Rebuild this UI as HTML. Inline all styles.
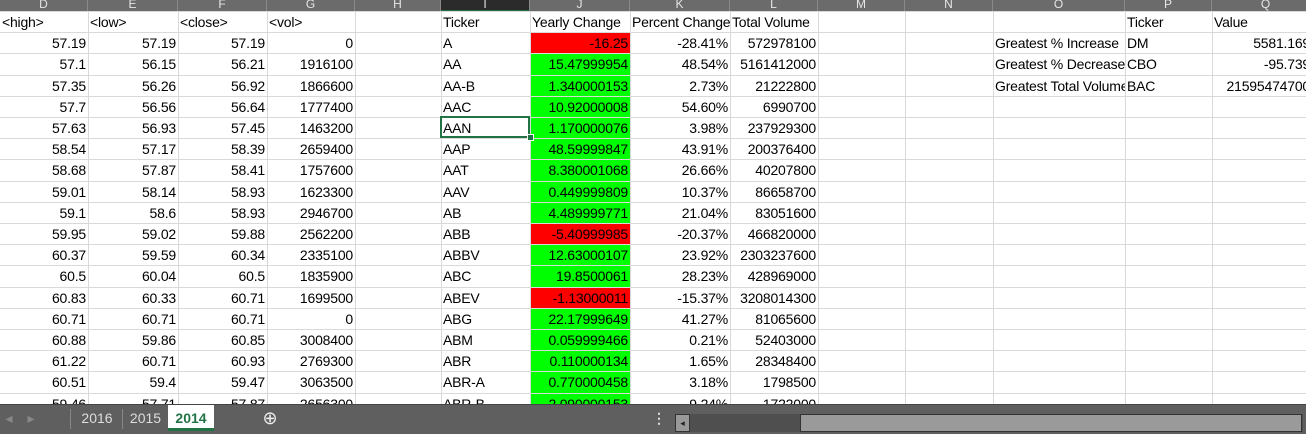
<!DOCTYPE html>
<html><head><meta charset="utf-8"><style>
body{margin:0;width:1306px;height:433px;overflow:hidden;background:#fff;font-family:"Liberation Sans",sans-serif;}
#sheet{position:absolute;left:0;top:0;width:1306px;height:433px;}
.colhdr{position:absolute;top:0;height:11px;background:#6b6b6b;color:#e6e6e6;font-size:12px;line-height:9px;text-align:center;overflow:hidden;border-right:1px solid #8a8a8a;box-sizing:border-box;}
.cell{position:absolute;height:21px;font-size:14px;line-height:23px;white-space:nowrap;overflow:hidden;box-sizing:border-box;padding:0 2px;color:#000;letter-spacing:-0.2px}
.r{text-align:right}
.vl{position:absolute;top:11px;width:1px;height:394px;background:#d9d9d9}
.hl{position:absolute;left:0;width:1306px;height:1px;background:#d9d9d9}
#tabbar{position:absolute;left:0;top:404px;width:1306px;height:29px;background:#5f5f5f;border-top:1px solid #444}
.tab{position:absolute;top:0;height:26px;line-height:26px;font-size:14px;color:#ddd;text-align:center}
</style></head><body>
<div id="sheet"></div>
<div id="tabbar">
 <div class="tab" style="left:4px;width:10px;color:#888">◂</div>
 <div class="tab" style="left:26px;width:10px;color:#888">▸</div>
 <div style="position:absolute;left:70px;top:4px;width:1px;height:20px;background:#888"></div>
 <div class="tab" style="left:72px;width:50px">2016</div>
 <div style="position:absolute;left:122px;top:4px;width:1px;height:20px;background:#888"></div>
 <div class="tab" style="left:123px;width:45px">2015</div>
 <div class="tab" style="left:168px;width:46px;background:#fff;color:#217346;font-weight:bold;border-bottom:3px solid #217346;height:23px;top:0">2014</div>
 <div class="tab" style="left:260px;width:20px;font-size:18px;color:#eee">⊕</div>
 <div class="tab" style="left:652px;width:10px;font-weight:bold">⋮</div>
 <div style="position:absolute;left:675px;top:9px;width:628px;height:18px;background:#4f4f4f">
  <div style="position:absolute;left:0;top:0;width:13px;height:16px;background:#999;border:1px solid #333;font-size:9px;line-height:16px;text-align:center;color:#222">◂</div>
  <div style="position:absolute;left:125px;top:0;width:500px;height:16px;background:#9a9a9a;border:1px solid #333"></div>
 </div>
</div>
<script>
const cols=[["D",0,88],["E",88,178],["F",178,267],["G",267,355],["H",355,441],["I",441,530],["J",530,630],["K",630,730],["L",730,818],["M",818,905],["N",905,993],["O",993,1125],["P",1125,1212],["Q",1212,1320]];
const high=["57.19","57.1","57.35","57.7","57.63","58.54","58.68","59.01","59.1","59.95","60.37","60.5","60.83","60.71","60.88","61.22","60.51","59.46"];
const low=["57.19","56.15","56.26","56.56","56.93","57.17","57.87","58.14","58.6","59.02","59.59","60.04","60.33","60.71","59.86","60.71","59.4","57.71"];
const close=["57.19","56.21","56.92","56.64","57.45","58.39","58.41","58.93","58.93","59.88","60.34","60.5","60.71","60.71","60.85","60.93","59.47","57.87"];
const vol=["0","1916100","1866600","1777400","1463200","2659400","1757600","1623300","2946700","2562200","2335100","1835900","1699500","0","3008400","2769300","3063500","2656300"];
const tickers=["A","AA","AA-B","AAC","AAN","AAP","AAT","AAV","AB","ABB","ABBV","ABC","ABEV","ABG","ABM","ABR","ABR-A","ABR-B"];
const yearly=["-16.25","15.47999954","1.340000153","10.92000008","1.170000076","48.59999847","8.380001068","0.449999809","4.489999771","-5.40999985","12.63000107","19.8500061","-1.13000011","22.17999649","0.059999466","0.110000134","0.770000458","2.090000153"];
const pct=["-28.41%","48.54%","2.73%","54.60%","3.98%","43.91%","26.66%","10.37%","21.04%","-20.37%","23.92%","28.23%","-15.37%","41.27%","0.21%","1.65%","3.18%","9.24%"];
const total=["572978100","5161412000","21222800","6990700","237929300","200376400","40207800","86658700","83051600","466820000","2303237600","428969000","3208014300","81065600","52403000","28348400","1798500","1722000"];
const S=document.getElementById('sheet');
const Y0=11,P=21.2;
function add(cls,x,y,w,h,style,txt,name,inter){const d=document.createElement('div');d.className=cls;d.style.left=x+'px';d.style.top=y+'px';if(w!=null)d.style.width=w+'px';if(h!=null)d.style.height=h+'px';if(style)d.style.cssText+=style;if(txt!=null)d.textContent=txt;


S.appendChild(d);return d;}
yearly.forEach((v,i)=>{add('',530,Y0+(i+1)*P,100,P+0.5,'position:absolute;background:'+(v.startsWith('-')?'#ff0000':'#00ff00'),null,'yearly-change-fill',false);});
for(let i=0;i<=19;i++){add('hl',0,Math.round(Y0+i*P),null,null,'',null,'row-gridline',false);}
cols.forEach(c=>{add('vl',c[2],11,null,null,'',null,'col-gridline',false);});
cols.forEach(c=>{add('colhdr',c[1],0,c[2]-c[1],11,c[0]==='I'?'background:#2b2b2b;border-bottom:1px solid #217346':'',c[0],'column-header-'+c[0].toLowerCase(),true);});
function cx(l){return cols.find(c=>c[0]===l);}
function cell(l,row,txt,right,name,extra){const c=cx(l);add('cell'+(right?' r':''),c[1],Y0+row*P,c[2]-c[1]+(extra||0),P,'',txt,name,true);}
cell('D',0,'<high>',0,'header-high');cell('E',0,'<low>',0,'header-low');cell('F',0,'<close>',0,'header-close');cell('G',0,'<vol>',0,'header-vol');
cell('I',0,'Ticker',0,'header-ticker');cell('J',0,'Yearly Change',0,'header-yearly-change');cell('K',0,'Percent Change',0,'header-percent-change');cell('L',0,'Total Volume',0,'header-total-volume',40);
cell('P',0,'Ticker',0,'summary-header-ticker');cell('Q',0,'Value',0,'summary-header-value');
for(let i=0;i<tickers.length;i++){const r=i+1;
cell('D',r,high[i],1,'high-cell');cell('E',r,low[i],1,'low-cell');cell('F',r,close[i],1,'close-cell');cell('G',r,vol[i],1,'vol-cell');
cell('I',r,tickers[i],0,'ticker-cell');cell('J',r,yearly[i],1,'yearly-change-cell');cell('K',r,pct[i],1,'percent-change-cell');cell('L',r,total[i],1,'total-volume-cell');}
const sLabels=["Greatest % Increase","Greatest % Decrease","Greatest Total Volume"],sT=["DM","CBO","BAC"],sV=["5581.169","-95.739","21595474700"];
sLabels.forEach((s,i)=>{cell('O',i+1,s,0,'summary-label');cell('P',i+1,sT[i],0,'summary-ticker');const c=cx('Q');add('cell r',c[1],Y0+(i+1)*P,100,P,'',sV[i],'summary-value',true);});
add('',440,Y0+5*P-1,90,P+1,'position:absolute;border:2px solid #217346;box-sizing:border-box',null,'selected-cell',true);
add('',527,Y0+6*P-4,5,5,'position:absolute;background:#217346;border:1px solid #fff',null,'fill-handle',true);
</script>
</body></html>
